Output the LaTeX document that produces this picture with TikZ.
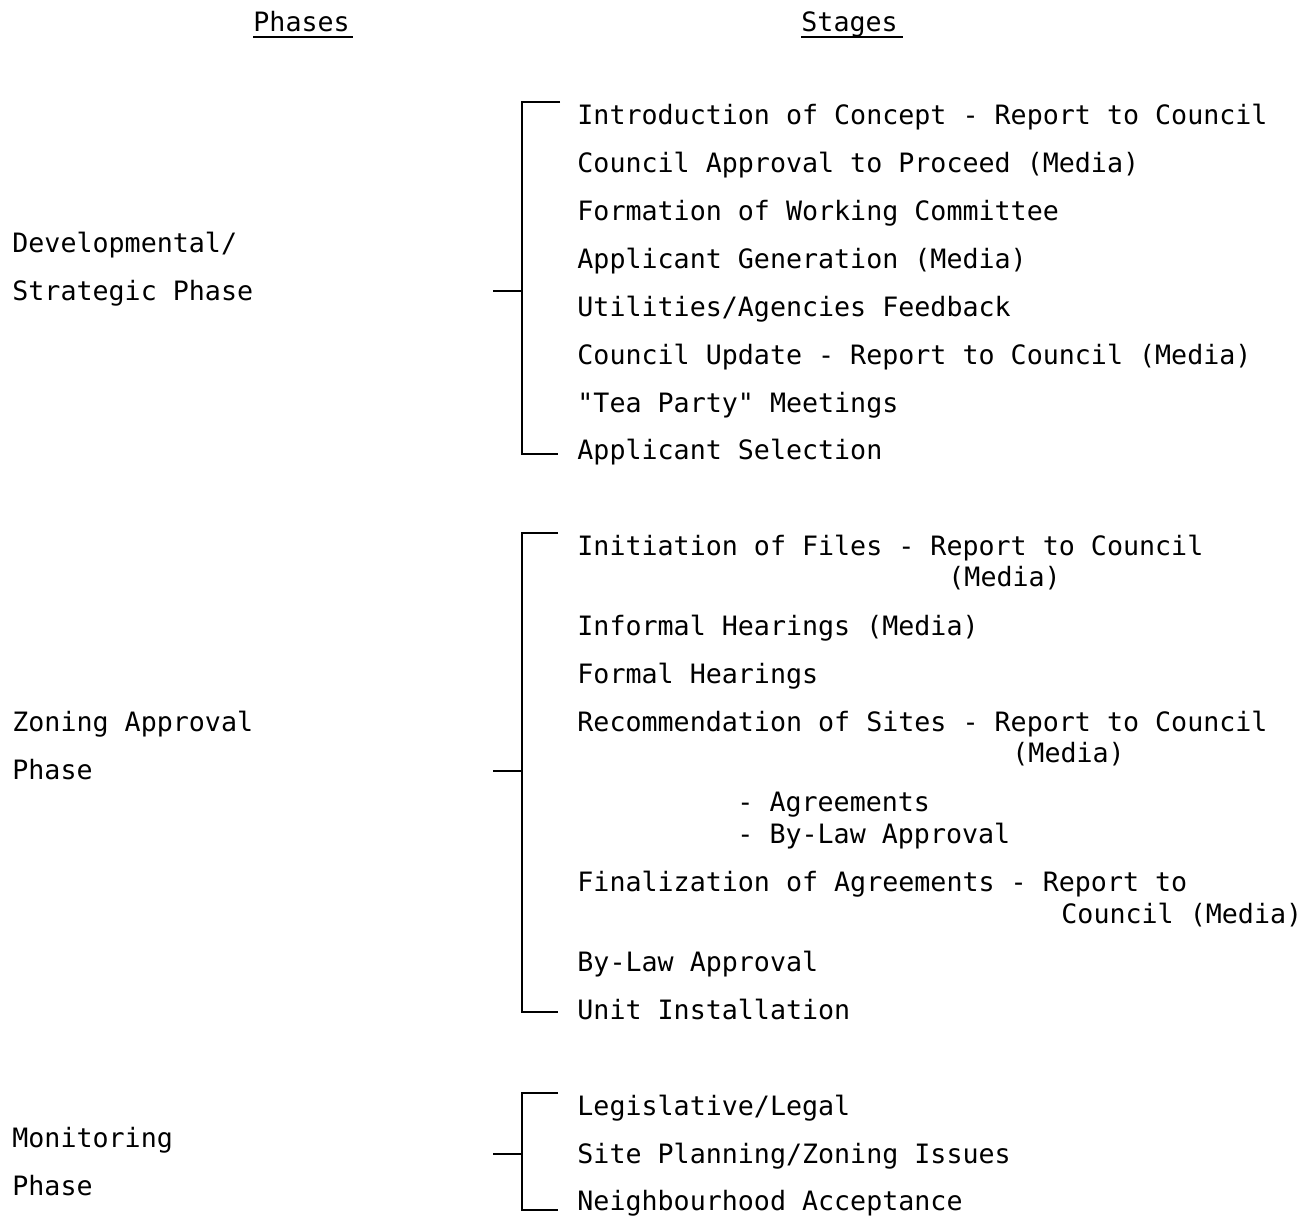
\documentclass[tikz,border=0pt]{standalone}
\usepackage{fontspec}
\newfontfamily\typewr{DejaVu Sans Mono}
\begin{document}
\begin{tikzpicture}[x=0.5pt,y=-0.5pt,
  txt/.style={anchor=base west,inner sep=0pt,font=\typewr\fontsize{13.33}{16}\selectfont},
  brk/.style={line width=1pt,line cap=butt}]
\useasboundingbox (0,0) rectangle (1311,1217);
% headers
\node[txt] (hp) at (253,31) {Phases};
\node[txt] (hs) at (801,31) {Stages};
\draw[brk] (hp.base west) ++(0,6) coordinate (hpu1) -- ++(100,0);
\draw[brk] (hs.base west) ++(0,6) coordinate (hsu1) -- ++(102,0);
% phase labels
\node[txt] (p1a) at (12,252) {Developmental/};
\node[txt] (p1b) at (12,300) {Strategic Phase};
\node[txt] (p2a) at (12,731) {Zoning Approval};
\node[txt] (p2b) at (12,779) {Phase};
\node[txt] (p3a) at (12,1147) {Monitoring};
\node[txt] (p3b) at (12,1195) {Phase};
% group 1 stages
\node[txt] (a1) at (577,124) {Introduction of Concept - Report to Council};
\node[txt] (a2) at (577,172) {Council Approval to Proceed (Media)};
\node[txt] (a3) at (577,220) {Formation of Working Committee};
\node[txt] (a4) at (577,268) {Applicant Generation (Media)};
\node[txt] (a5) at (577,316) {Utilities/Agencies Feedback};
\node[txt] (a6) at (577,364) {Council Update - Report to Council (Media)};
\node[txt] (a7) at (577,412) {"Tea Party" Meetings};
\node[txt] (a8) at (577,459) {Applicant Selection};
% group 2 stages
\node[txt] (b1) at (577,555) {Initiation of Files - Report to Council};
\node[txt] (b1m) at (948,586) {(Media)};
\node[txt] (b2) at (577,635) {Informal Hearings (Media)};
\node[txt] (b3) at (577,683) {Formal Hearings};
\node[txt] (b4) at (577,731) {Recommendation of Sites - Report to Council};
\node[txt] (b4m) at (1012,762) {(Media)};
\node[txt] (b4a) at (737,811) {- Agreements};
\node[txt] (b4b) at (737,843) {- By-Law Approval};
\node[txt] (b5) at (577,891) {Finalization of Agreements - Report to};
\node[txt] (b5m) at (1061,923) {Council (Media)};
\node[txt] (b6) at (577,971) {By-Law Approval};
\node[txt] (b7) at (577,1019) {Unit Installation};
% group 3 stages
\node[txt] (c1) at (577,1115) {Legislative/Legal};
\node[txt] (c2) at (577,1163) {Site Planning/Zoning Issues};
\node[txt] (c3) at (577,1210) {Neighbourhood Acceptance};
% brackets
\coordinate (g1t) at (560,102); \coordinate (g1tc) at (522,102);
\coordinate (g1b) at (558,454); \coordinate (g1bc) at (522,454);
\coordinate (g1s) at (493,291); \coordinate (g1sc) at (522,291);
\draw[brk] (g1t) -- (g1tc) -- (g1bc) -- (g1b);
\draw[brk] (g1s) -- (g1sc);
\coordinate (g2t) at (558,533); \coordinate (g2tc) at (522,533);
\coordinate (g2b) at (558,1012); \coordinate (g2bc) at (522,1012);
\coordinate (g2s) at (493,771); \coordinate (g2sc) at (522,771);
\draw[brk] (g2t) -- (g2tc) -- (g2bc) -- (g2b);
\draw[brk] (g2s) -- (g2sc);
\coordinate (g3t) at (558,1093); \coordinate (g3tc) at (522,1093);
\coordinate (g3b) at (558,1210); \coordinate (g3bc) at (522,1210);
\coordinate (g3s) at (493,1154); \coordinate (g3sc) at (522,1154);
\draw[brk] (g3t) -- (g3tc) -- (g3bc) -- (g3b);
\draw[brk] (g3s) -- (g3sc);
\end{tikzpicture}
\end{document}
